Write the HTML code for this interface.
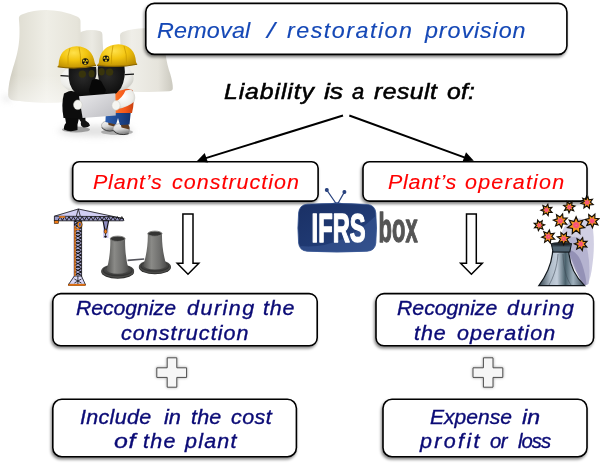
<!DOCTYPE html>
<html lang="en">
<head>
<meta charset="utf-8">
<title>Removal / restoration provision</title>
<style>
html,body{margin:0;padding:0;background:#fff;}
body{width:600px;height:469px;overflow:hidden;}
#stage{position:relative;width:600px;height:469px;overflow:hidden;background:#fff;}
#stage svg{position:absolute;left:0;top:0;display:block;}
.ln{position:absolute;left:0;top:0;margin:0;font-family:"Liberation Sans",sans-serif;font-style:italic;font-weight:normal;line-height:normal;white-space:nowrap;}
.ln span{position:absolute;display:block;transform-origin:0 0;white-space:nowrap;-webkit-text-stroke:0.12px currentColor;}
.blue{color:#1548b6;}
.blk{color:#000;}
.blk span{-webkit-text-stroke-width:0.55px;}
.navy{color:#0b0b76;}
.navy span{-webkit-text-stroke-width:0.35px;}
.red{color:#ff0000;}
.box{fill:#fff;stroke:#000;stroke-width:1.6;}
</style>
</head>
<body>
<div id="stage">
<svg width="600" height="469" viewBox="0 0 600 469">
<defs>
  <filter id="sh" x="-10%" y="-20%" width="120%" height="150%">
    <feGaussianBlur in="SourceAlpha" stdDeviation="1.5"/>
    <feOffset dx="-1.2" dy="1.8" result="o"/>
    <feComponentTransfer><feFuncA type="linear" slope="0.5"/></feComponentTransfer>
    <feMerge><feMergeNode/><feMergeNode in="SourceGraphic"/></feMerge>
  </filter>
  <filter id="glow" x="-30%" y="-30%" width="160%" height="160%">
    <feGaussianBlur in="SourceAlpha" stdDeviation="1.6"/>
    <feComponentTransfer><feFuncA type="linear" slope="0.35"/></feComponentTransfer>
    <feMerge><feMergeNode/><feMergeNode in="SourceGraphic"/></feMerge>
  </filter>

  <linearGradient id="tw1" x1="0" y1="0" x2="1" y2="0">
    <stop offset="0" stop-color="#cbc8bb"/><stop offset="0.12" stop-color="#e0ded3"/>
    <stop offset="0.45" stop-color="#efeee6"/><stop offset="0.8" stop-color="#e6e4da"/>
    <stop offset="1" stop-color="#d3d1c5"/>
  </linearGradient>
  <linearGradient id="tw2" x1="0" y1="0" x2="1" y2="0">
    <stop offset="0" stop-color="#dcdad0"/><stop offset="0.5" stop-color="#ebeae3"/>
    <stop offset="1" stop-color="#d6d4ca"/>
  </linearGradient>
  <linearGradient id="tw3" x1="0" y1="0" x2="1" y2="0">
    <stop offset="0" stop-color="#d9d7cd"/><stop offset="0.3" stop-color="#efeee8"/>
    <stop offset="0.75" stop-color="#e6e4dc"/><stop offset="1" stop-color="#cbc9bf"/>
  </linearGradient>
  <linearGradient id="fadeb" x1="0" y1="0" x2="0" y2="1">
    <stop offset="0" stop-color="#fff" stop-opacity="0"/><stop offset="0.7" stop-color="#fff" stop-opacity="0"/>
    <stop offset="1" stop-color="#fff" stop-opacity="0.45"/>
  </linearGradient>
  <radialGradient id="helm" cx="0.42" cy="0.3" r="0.75">
    <stop offset="0" stop-color="#ffe14a"/><stop offset="0.45" stop-color="#f2c40f"/>
    <stop offset="1" stop-color="#b98a00"/>
  </radialGradient>
  <radialGradient id="skin" cx="0.4" cy="0.35" r="0.8">
    <stop offset="0" stop-color="#ffffff"/><stop offset="0.6" stop-color="#ecece8"/>
    <stop offset="1" stop-color="#b9b8b0"/>
  </radialGradient>
  <radialGradient id="mask" cx="0.45" cy="0.35" r="0.8">
    <stop offset="0" stop-color="#2a2a2a"/><stop offset="1" stop-color="#050505"/>
  </radialGradient>
  <linearGradient id="paper" x1="0" y1="0" x2="1" y2="1">
    <stop offset="0" stop-color="#e9e9eb"/><stop offset="1" stop-color="#bdbdc2"/>
  </linearGradient>
  <linearGradient id="vest" x1="0" y1="0" x2="1" y2="0">
    <stop offset="0" stop-color="#ff7a2a"/><stop offset="0.6" stop-color="#f4571a"/><stop offset="1" stop-color="#c8400f"/>
  </linearGradient>
  <linearGradient id="pants" x1="0" y1="0" x2="1" y2="0">
    <stop offset="0" stop-color="#2d5fb0"/><stop offset="1" stop-color="#12326e"/>
  </linearGradient>
  <linearGradient id="shoe" x1="0" y1="0" x2="0.3" y2="1">
    <stop offset="0" stop-color="#fafafa"/><stop offset="0.6" stop-color="#d8d8d8"/><stop offset="1" stop-color="#8c8c8c"/>
  </linearGradient>
  <filter id="soft" x="-30%" y="-30%" width="160%" height="160%"><feGaussianBlur stdDeviation="3"/></filter>
  <filter id="soft1" x="-30%" y="-30%" width="160%" height="160%"><feGaussianBlur stdDeviation="0.5"/></filter>

  <linearGradient id="gt" x1="0" y1="0" x2="1" y2="0">
    <stop offset="0" stop-color="#525250"/><stop offset="0.35" stop-color="#8a8a87"/>
    <stop offset="0.7" stop-color="#70706e"/><stop offset="1" stop-color="#4c4c4b"/>
  </linearGradient>
  <radialGradient id="gtb" cx="0.5" cy="0.4" r="0.6">
    <stop offset="0" stop-color="#6a6a68"/><stop offset="1" stop-color="#3a3a39"/>
  </radialGradient>

  <linearGradient id="tv" x1="0" y1="0" x2="0.9" y2="1">
    <stop offset="0" stop-color="#1a3065"/><stop offset="0.55" stop-color="#1f3972"/>
    <stop offset="1" stop-color="#27437e"/>
  </linearGradient>

  <linearGradient id="stk" x1="0" y1="0" x2="1" y2="0">
    <stop offset="0" stop-color="#34444e"/><stop offset="0.25" stop-color="#aebbc8"/>
    <stop offset="0.4" stop-color="#c3cedb"/><stop offset="0.58" stop-color="#4a616c"/>
    <stop offset="0.75" stop-color="#9fb0bd"/><stop offset="1" stop-color="#3a4a56"/>
  </linearGradient>
  <radialGradient id="star" cx="0.5" cy="0.5" r="0.5">
    <stop offset="0" stop-color="#ffc83a"/><stop offset="0.1" stop-color="#ff4a78"/><stop offset="0.28" stop-color="#f2557c"/>
    <stop offset="0.44" stop-color="#f39322"/><stop offset="1" stop-color="#f2a216"/>
  </radialGradient>

</defs>
<rect width="600" height="469" fill="#fff"/>

<g id="plant-scene">
  <!-- floor shadows -->
  <g filter="url(#soft)" opacity="0.5">
    <ellipse cx="96" cy="131" rx="38" ry="5.5" fill="#c4c4c4"/>
    <path d="M2,96 L9,96 L12,101 L4,101 Z" fill="#cfcfcf"/>
  </g>
  <!-- tower 2 (middle, behind) -->
  <path d="M79.5,34 Q79.6,32 82,31.4 Q91,28.6 100.4,31.2 Q102.5,32 102.4,34.5 C102.8,45 103.5,60 108,96 L76,96 Z" fill="url(#tw2)"/>
  <!-- tower 3 (right) -->
  <path d="M120,35.5 Q119.8,33 122.5,32 Q142,25 165,31 C163.5,45 166,62 170.3,74 C172,80 173,85 172.8,88.4 Q172.5,91 169,91.2 Q150,92.6 114,91.6 C119,75 121.5,55 120,35.5 Z" fill="url(#tw3)"/>
  <!-- tower 1 (big, left) -->
  <path d="M18.9,19 Q18.5,15.3 22.5,14.2 Q48,4.8 77,16.4 Q80.8,18 80.5,21.8 C80,40 84,64 94,97 Q55,106.5 13,100.3 Q8.6,99.4 8.2,95 C8,88 9.6,79 12.4,70 C17.5,54 21,42 18.9,19 Z" fill="url(#tw1)"/>
  <path d="M18.9,19 Q18.5,15.3 22.5,14.2 Q48,4.8 77,16.4 Q80.8,18 80.5,21.8 C80,40 84,64 94,97 Q55,106.5 13,100.3 Q8.6,99.4 8.2,95 C8,88 9.6,79 12.4,70 C17.5,54 21,42 18.9,19 Z" fill="url(#fadeb)"/>
</g>

<g id="workers">
  <ellipse cx="76" cy="129.5" rx="14" ry="3" fill="#555" opacity="0.5" filter="url(#soft1)"/>
  <ellipse cx="117" cy="132" rx="16" ry="3" fill="#666" opacity="0.45" filter="url(#soft1)"/>
  <!-- LEFT worker -->
  <path d="M64.5,114 L66,123 Q63.5,125.5 64,129.5 Q70,132.5 77.5,130 L77.5,124.5 L79.5,116 Z" fill="#0a0a0a"/>
  <path d="M77,116 L81,122 Q80,126 83.5,127.5 Q88,128 90,125.5 Q88.5,122 85.5,120.5 L85,114 Z" fill="#121212"/>
  <path d="M64,93.5 Q61,104 63.5,118 L85,119 Q87,106 84,93 Q73,88 64,93.5 Z" fill="#0c0c0c"/>
  <ellipse cx="77" cy="79" rx="16.6" ry="12.8" fill="url(#skin)"/>
  <path d="M68.7,67 L96,67 Q97.2,74 95.2,79 Q93,82 92.3,84 L99.5,89.5 Q100.5,93 97,96 L80,96 Q70,91 68.7,78 Z" fill="url(#mask)"/>
  <ellipse cx="82.3" cy="74.1" rx="3.7" ry="3.7" fill="#38340c"/>
  <ellipse cx="91.6" cy="73.8" rx="3" ry="3.7" fill="#38340c"/>
  <path d="M60.5,75.6 L68.8,76.2" stroke="#111" stroke-width="1.2"/>
  <path d="M58.6,65 Q59,47.5 76.5,46.2 Q92,46.6 94.7,62.5 L96,65.6 Q78,70 57.6,67 Z" fill="url(#helm)"/>
  <path d="M57.6,66.7 Q78,69.7 96,65.4" stroke="#8a6500" stroke-width="1.1" fill="none"/>
  <path d="M70,48 Q67,56 68,65" stroke="#c99a00" stroke-width="0.8" fill="none"/>
  <path d="M79,47 Q81,55 80.5,64" stroke="#c99a00" stroke-width="0.8" fill="none"/>
  <circle cx="85.3" cy="61.5" r="3.3" fill="#111"/><path d="M86.65,63.84 A2.71,2.71 0 0 1 83.95,63.84 L84.84,62.30 A0.92,0.92 0 0 0 85.76,62.30 Z" fill="#f4cf1c"/><path d="M82.59,61.50 A2.71,2.71 0 0 1 83.95,59.16 L84.84,60.70 A0.92,0.92 0 0 0 84.38,61.50 Z" fill="#f4cf1c"/><path d="M86.65,59.16 A2.71,2.71 0 0 1 88.01,61.50 L86.22,61.50 A0.92,0.92 0 0 0 85.76,60.70 Z" fill="#f4cf1c"/><circle cx="85.3" cy="61.5" r="0.53" fill="#f4cf1c"/>
  <!-- RIGHT worker -->
  <path d="M101.4,126 Q101.4,121.5 107.5,121 L114,122.5 Q116,127 113,130.5 Q105.5,132 101.4,126 Z" fill="url(#shoe)" stroke="#8d8d8d" stroke-width="0.5"/>
  <path d="M108,121 L114.4,122.5 Q115.6,124.8 115,126.8 L108.5,125 Z" fill="#5e3d22"/>
  <path d="M101.6,127.4 Q106,132.4 113.4,130.6" stroke="#3a3a3a" stroke-width="1" fill="none"/>
  <path d="M113,129.5 Q113,124.5 119.5,123.5 L128,124 Q131,129 128.5,133.5 Q118.5,136 113,129.5 Z" fill="url(#shoe)" stroke="#8d8d8d" stroke-width="0.5"/>
  <path d="M120.5,123.5 L128,124 Q130,127 129.4,129.4 L121.5,127.6 Z" fill="#5e3d22"/>
  <path d="M113.2,130.6 Q118.6,136.4 128.6,133.8" stroke="#3a3a3a" stroke-width="1" fill="none"/>
  <path d="M106,110 L105.4,122 L116,124.5 L118,118 L120,125 L129.5,124.5 L131,110 Z" fill="url(#pants)"/>
  <path d="M114,92 Q112,103 114,113 L132,113 Q135,102 132.5,90 Q123,86 114,92 Z" fill="url(#vest)"/>
  <ellipse cx="117" cy="78" rx="16.6" ry="12.8" fill="url(#skin)"/>
  <path d="M98,66.2 L124.4,65.8 Q126.2,78 121,88 Q117,93.5 112.5,96 L94.5,96 Q92.5,92 95.5,88.5 L100.2,83.5 Q97,76 98,66.2 Z" fill="url(#mask)"/>
  <ellipse cx="101.6" cy="71.7" rx="3.1" ry="3.7" fill="#38340c"/>
  <ellipse cx="109.6" cy="72.1" rx="3.7" ry="3.7" fill="#38340c"/>
  <path d="M124.6,74.6 L134,74.2" stroke="#111" stroke-width="1.2"/>
  <path d="M98.8,63 Q100,45.2 118.5,44.2 Q135,45.4 136,62 L137.2,64.6 Q118,68.2 97,65.6 Z" fill="url(#helm)"/>
  <path d="M97,65.2 Q118,68 137.2,64.2" stroke="#8a6500" stroke-width="1.1" fill="none"/>
  <path d="M113,45.5 Q111,54 111.5,64" stroke="#c99a00" stroke-width="0.8" fill="none"/>
  <path d="M124,46 Q127,54 126.5,63.5" stroke="#c99a00" stroke-width="0.8" fill="none"/>
  <circle cx="106" cy="58.8" r="3.3" fill="#111"/><path d="M107.35,61.14 A2.71,2.71 0 0 1 104.65,61.14 L105.54,59.60 A0.92,0.92 0 0 0 106.46,59.60 Z" fill="#f4cf1c"/><path d="M103.29,58.80 A2.71,2.71 0 0 1 104.65,56.46 L105.54,58.00 A0.92,0.92 0 0 0 105.08,58.80 Z" fill="#f4cf1c"/><path d="M107.35,56.46 A2.71,2.71 0 0 1 108.71,58.80 L106.92,58.80 A0.92,0.92 0 0 0 106.46,58.00 Z" fill="#f4cf1c"/><circle cx="106" cy="58.8" r="0.53" fill="#f4cf1c"/>
  <path d="M131,89.5 Q137,94 134.5,101.5 Q127.5,107.5 117.5,109 L115,102 Q122.5,98 125.5,90.5 Z" fill="url(#skin)"/>
  <path d="M92,80 Q97,77.5 101,81 L106,90 Q104,97 97,97 Q90,97 89,90 Z" fill="#070707"/>
  <path d="M79,96.2 L115.4,93.2 L115.8,115.6 L82.6,118 Z" fill="url(#paper)"/>
  <ellipse cx="77.8" cy="104.8" rx="4.3" ry="4.8" fill="#f6f6f2" stroke="#c9c8c0" stroke-width="0.5"/>
  <ellipse cx="116" cy="105.4" rx="4.1" ry="4.8" fill="#f6f6f2" stroke="#c9c8c0" stroke-width="0.5"/>
</g>
<g id="crane"><path d="M54,216 L78.4,208.6 L123.6,218.6 L123.6,221 L108.5,221 L108.5,238 L103,238 L103,221 L82,221 L82,276 L86,285.8 L67.6,285.8 L73.4,276 L73.4,221 L54,221 Z" fill="#c9c6f2" opacity="0.85" filter="url(#soft1)"/><g stroke="#111" stroke-width="0.8" fill="none"><path d="M78.4,209 L54.4,216.2 M78.4,209 L123.4,218.6 M78.4,209 L75,220.6 M78.4,209 L81.4,220.6"/><path d="M54.4,216.2 L112,216.6 L123.4,218.8 L123.4,220.8 L54.4,220.8 Z" fill="#9c9ac9"/><path d="M58.0,220.4 L60.2,216.6 L62.4,220.4 M62.4,220.4 L64.6,216.6 L66.8,220.4 M66.8,220.4 L69.0,216.6 L71.2,220.4 M71.2,220.4 L73.4,216.6 L75.6,220.4 M75.6,220.4 L77.8,216.6 L80.0,220.4 M80.0,220.4 L82.2,216.6 L84.4,220.4 M84.4,220.4 L86.6,216.6 L88.8,220.4 M88.8,220.4 L91.0,216.6 L93.2,220.4 M93.2,220.4 L95.4,216.6 L97.6,220.4 M97.6,220.4 L99.8,216.6 L102.0,220.4 M102.0,220.4 L104.2,216.6 L106.4,220.4 M106.4,220.4 L108.6,216.6 L110.8,220.4 M110.8,220.4 L113.0,216.6 L115.2,220.4 M115.2,220.4 L117.4,216.6 L119.6,220.4 M119.6,220.4 L121.8,216.6 L124.0,220.4 " stroke-width="0.9"/><path d="M74.4,221 L81.6,221 L81.6,276.5 L74.4,276.5 Z" fill="#a9a7d2"/><path d="M74.4,221.0 L81.4,224.4 M81.4,221.0 L74.4,224.4 M74.4,224.4 L81.4,227.8 M81.4,224.4 L74.4,227.8 M74.4,227.8 L81.4,231.2 M81.4,227.8 L74.4,231.2 M74.4,231.2 L81.4,234.6 M81.4,231.2 L74.4,234.6 M74.4,234.6 L81.4,238.0 M81.4,234.6 L74.4,238.0 M74.4,238.0 L81.4,241.4 M81.4,238.0 L74.4,241.4 M74.4,241.4 L81.4,244.8 M81.4,241.4 L74.4,244.8 M74.4,244.8 L81.4,248.2 M81.4,244.8 L74.4,248.2 M74.4,248.2 L81.4,251.6 M81.4,248.2 L74.4,251.6 M74.4,251.6 L81.4,255.0 M81.4,251.6 L74.4,255.0 M74.4,255.0 L81.4,258.4 M81.4,255.0 L74.4,258.4 M74.4,258.4 L81.4,261.8 M81.4,258.4 L74.4,261.8 M74.4,261.8 L81.4,265.2 M81.4,261.8 L74.4,265.2 M74.4,265.2 L81.4,268.6 M81.4,265.2 L74.4,268.6 M74.4,268.6 L81.4,272.0 M81.4,268.6 L74.4,272.0 M74.4,272.0 L81.4,275.4 M81.4,272.0 L74.4,275.4 " stroke-width="1"/><path d="M74.4,276 L68.2,285 L85.6,285 L81.4,276 Z" fill="#d8d6f6"/><path d="M77.9,276 L77.9,285 M74.4,279 L81.4,283 M81.4,279 L74.4,283"/><path d="M103,220.8 L108.6,220.8 L106.6,230.4 L105,230.4 Z" fill="#8f8dc0" stroke-width="1.1"/><path d="M105.5,230 L105.5,235.5"/></g><rect x="54.2" y="220.6" width="4.4" height="3" fill="#f07a14" stroke="#111" stroke-width="0.5"/><rect x="59" y="216.2" width="6" height="1.5" fill="#f07a14"/><rect x="74.2" y="226" width="1.6" height="50" fill="#f07a14" opacity="0.85"/><ellipse cx="79.6" cy="224.6" rx="2.6" ry="3.2" fill="#f0891c" stroke="#111" stroke-width="0.6"/><ellipse cx="79.8" cy="224.6" rx="1" ry="1.8" fill="#3d55c4"/><rect x="75" y="228.6" width="4.6" height="1.5" fill="#f07a14"/><rect x="68.4" y="284" width="17" height="1.8" fill="#f07a14" stroke="#7a3a00" stroke-width="0.3"/><ellipse cx="105.6" cy="231.4" rx="1.5" ry="2.2" fill="#f07a14" stroke="#111" stroke-width="0.5"/><circle cx="105.5" cy="236.6" r="1.2" fill="#111"/></g><g id="grey-towers"><path d="M127.6,260.4 L144.2,259" stroke="#55555c" stroke-width="1.6" fill="none"/><ellipse cx="154.9" cy="267.5" rx="16.0" ry="6.8" fill="#2c2c2b"/><ellipse cx="154.9" cy="266.6" rx="16.0" ry="6.8" fill="#4a4a48"/><ellipse cx="154.9" cy="266.3" rx="14.4" ry="5.5" fill="#333332"/><ellipse cx="154.9" cy="266.0" rx="13.4" ry="4.8" fill="url(#gtb)"/><path d="M147.8,233.7 C148.10000000000002,246.3 145.5,258.9 143.3,265.2 A11.6,4.18 0 0 0 166.5,265.2 C164.3,258.9 161.7,246.3 162.0,233.7 Z" fill="url(#gt)"/><ellipse cx="154.9" cy="233.7" rx="7.1" ry="2.56" fill="#343433" stroke="#7a7a78" stroke-width="0.9"/><ellipse cx="117.7" cy="271.79999999999995" rx="16.4" ry="7.0" fill="#2c2c2b"/><ellipse cx="117.7" cy="270.9" rx="16.4" ry="7.0" fill="#4a4a48"/><ellipse cx="117.7" cy="270.59999999999997" rx="14.799999999999999" ry="5.7" fill="#333332"/><ellipse cx="117.7" cy="270.29999999999995" rx="13.799999999999999" ry="5.0" fill="url(#gtb)"/><path d="M110.3,238.8 C110.6,251.1 108.7,263.4 106.5,269.6 A11.2,4.03 0 0 0 128.9,269.6 C126.7,263.4 124.80000000000001,251.1 125.10000000000001,238.8 Z" fill="url(#gt)"/><ellipse cx="117.7" cy="238.8" rx="7.4" ry="2.66" fill="#343433" stroke="#7a7a78" stroke-width="0.9"/></g>
<!-- boxes -->
<g filter="url(#sh)">
  <rect class="box" x="145.8" y="3.4" width="421.1" height="51" rx="8.6"/>
  <rect class="box" x="72.7" y="161.7" width="245.4" height="39.4" rx="6.5"/>
  <rect class="box" x="363" y="161.7" width="224" height="39.4" rx="6.5"/>
  <rect class="box" x="52.8" y="293.6" width="264.4" height="52.2" rx="8"/>
  <rect class="box" x="376" y="293.6" width="217.6" height="52.2" rx="8"/>
  <rect class="box" x="52.8" y="399.2" width="243.6" height="57.6" rx="9"/>
  <rect class="box" x="383" y="399.2" width="204" height="57.6" rx="9"/>
</g>
<!-- connector arrows -->
<g stroke="#000" stroke-width="2" fill="none" stroke-linecap="butt">
  <line x1="343" y1="115.5" x2="205" y2="158.4"/>
  <line x1="349.3" y1="115.5" x2="465" y2="157.6"/>
</g>
<polygon points="197,160.9 204.7,153 208,162.6" fill="#000"/>
<polygon points="473.8,160.8 462.7,161.2 466,152.3" fill="#000"/>
<!-- block arrows -->
<g fill="#fff" stroke="#000" stroke-width="1.5" stroke-linejoin="miter">
  <polygon points="182.9,213.9 193,213.9 193,263.2 198.8,263.2 188,274.2 177.2,263.2 182.9,263.2"/>
  <polygon points="466.5,213.9 476.3,213.9 476.3,263.2 482.3,263.2 471.4,274.2 460.6,263.2 466.5,263.2"/>
</g>
<!-- plus signs -->
<g filter="url(#glow)" fill="#f6f6f6" stroke="#4d4d4d" stroke-width="1">
  <polygon points="167.2,357.8 176.8,357.8 176.8,367.8 186.6,367.8 186.6,377.4 176.8,377.4 176.8,387.2 167.2,387.2 167.2,377.4 156.8,377.4 156.8,367.8 167.2,367.8"/>
  <polygon points="483.4,357.8 493,357.8 493,367.8 502.8,367.8 502.8,377.4 493,377.4 493,387.2 483.4,387.2 483.4,377.4 473,377.4 473,367.8 483.4,367.8"/>
</g>

<g id="logo" opacity="0.999">
  <g stroke="#2a437f" stroke-width="1.2" fill="#2a437f" stroke-linecap="round">
    <path d="M336.4,204 L327,190.4" fill="none"/><path d="M337.6,204 L344.2,192.4" fill="none"/>
    <circle cx="326.8" cy="190" r="1.4"/><circle cx="344.4" cy="192" r="1.4"/>
    <path d="M331,204.6 Q337,201.2 343,204.6 Z"/>
  </g>
  <path d="M307,204.2 Q337,202.4 367.4,204.4 Q375,205.2 375.8,213 Q377.2,228 375.8,243 Q375,250.6 367.4,251.2 Q337,253 307,251.2 Q299.4,250.6 298.6,243 Q297.2,228 298.6,213 Q299.4,205 307,204.2 Z" fill="url(#tv)" stroke="#31508f" stroke-width="0.8"/>
  <path d="M300,246 Q340,250 375.6,216 Q377,230 375.8,243 Q375,250.6 367.4,251.2 Q337,253 307,251.2 Q301,250.6 300,246 Z" fill="#4a6aa8" opacity="0.35"/>
  <text x="311.6" y="241.7" font-family="'Liberation Sans',sans-serif" font-weight="bold" font-size="41" fill="#fff" stroke="#fff" stroke-width="1.5" stroke-linejoin="round" textLength="54" lengthAdjust="spacingAndGlyphs">IFRS</text>
  <text x="378.6" y="241.7" font-family="'Liberation Sans',sans-serif" font-weight="bold" font-size="40" fill="#555" stroke="#555" stroke-width="1.3" stroke-linejoin="round" textLength="39" lengthAdjust="spacingAndGlyphs">box</text>
</g>
<g id="explosion"><path d="M562,246 Q559,231 567,224 Q574,217 583,219 Q591,219 593,229 Q595,246 592.5,264 Q591,278 587.5,285 L584,285 L570,262 Z" fill="#cfcde2" opacity="0.95" filter="url(#soft1)"/><path d="M569,238 Q581,233 587,248 Q591,266 588.5,284 L584,285 Q578,270 570,254 Z" fill="#b3b0cf" opacity="0.9" filter="url(#soft1)"/><path d="M570,250 Q578,252 582,264 Q586,276 586.5,285 L583,285.6 Q576,272 570,256 Z" fill="#8f8cb2" opacity="0.85" filter="url(#soft1)"/><path d="M552.6,251.6 C551.5,266 546,276 538.8,285.6 L584.6,285.6 C574.5,276 569.6,266 568.8,251.6 Z" fill="url(#stk)" stroke="#10161c" stroke-width="1.2"/><path d="M558,254 C557,268 553,278 549,285 M563,254 C563.5,268 566,278 571,285" stroke="#3f4a56" stroke-width="0.8" fill="none" opacity="0.7"/><path d="M551.4,243.8 L571.4,243.8 L569.8,252 L553,252 Z" fill="#4f6270" stroke="#10161c" stroke-width="1.1"/><path d="M551,245.8 L570.4,245.8" stroke="#141a20" stroke-width="0.7"/><ellipse cx="561.4" cy="243.8" rx="10" ry="1.7" fill="#1e262e"/><polygon points="547.86,204.28 548.53,207.58 551.89,207.34 549.73,209.93 552.01,212.40 548.65,212.32 548.14,215.65 546.10,212.97 543.18,214.65 544.00,211.38 540.87,210.14 543.94,208.75 542.95,205.53 545.95,207.06" fill="url(#star)" stroke="#140d05" stroke-width="1.15" stroke-linejoin="miter"/><polygon points="572.10,201.88 571.76,205.23 575.04,205.99 572.22,207.83 573.67,210.86 570.47,209.80 569.00,212.82 567.85,209.66 564.56,210.40 566.31,207.52 563.69,205.41 567.03,204.99 567.04,201.62 569.46,203.97" fill="url(#star)" stroke="#140d05" stroke-width="1.15" stroke-linejoin="miter"/><polygon points="587.83,196.37 588.90,199.82 592.46,199.20 590.43,202.20 593.14,204.60 589.53,204.87 589.34,208.49 586.87,205.84 583.93,207.94 584.46,204.37 580.98,203.38 584.11,201.56 582.72,198.23 586.09,199.54" fill="url(#star)" stroke="#140d05" stroke-width="1.15" stroke-linejoin="miter"/><polygon points="562.61,213.89 563.02,217.98 567.14,218.10 564.20,220.98 566.67,224.27 562.59,223.76 561.56,227.75 559.40,224.24 555.65,225.92 557.05,222.05 553.39,220.16 557.29,218.84 556.49,214.81 559.95,217.03" fill="url(#star)" stroke="#140d05" stroke-width="1.15" stroke-linejoin="miter"/><polygon points="576.10,216.74 578.10,221.45 583.02,220.08 580.59,224.58 584.73,227.57 579.70,228.47 579.94,233.58 576.10,230.21 572.26,233.58 572.50,228.47 567.47,227.57 571.61,224.58 569.18,220.08 574.10,221.45" fill="url(#star)" stroke="#140d05" stroke-width="1.15" stroke-linejoin="miter"/><polygon points="594.88,214.13 594.88,218.25 598.96,218.78 595.75,221.35 597.88,224.87 593.87,223.96 592.45,227.82 590.66,224.11 586.75,225.41 588.53,221.70 585.08,219.45 589.09,218.53 588.70,214.44 591.92,217.00" fill="url(#star)" stroke="#140d05" stroke-width="1.15" stroke-linejoin="miter"/><polygon points="542.25,220.74 541.63,223.80 544.59,224.81 541.81,226.23 542.87,229.16 540.02,227.88 538.39,230.54 537.61,227.52 534.52,227.89 536.40,225.41 534.18,223.22 537.29,223.14 537.62,220.04 539.62,222.42" fill="url(#star)" stroke="#140d05" stroke-width="1.15" stroke-linejoin="miter"/><polygon points="549.40,230.08 550.36,233.82 554.20,233.35 551.87,236.44 554.63,239.15 550.77,239.25 550.37,243.10 547.88,240.14 544.63,242.23 545.38,238.44 541.72,237.20 545.16,235.43 543.85,231.79 547.38,233.37" fill="url(#star)" stroke="#140d05" stroke-width="1.15" stroke-linejoin="miter"/><polygon points="566.52,232.57 566.34,236.30 570.02,236.97 566.98,239.15 568.76,242.45 565.16,241.44 563.69,244.88 562.23,241.43 558.63,242.43 560.41,239.15 557.38,236.95 561.07,236.30 560.90,232.56 563.70,235.03" fill="url(#star)" stroke="#140d05" stroke-width="1.15" stroke-linejoin="miter"/><polygon points="582.63,237.62 583.20,241.38 587.01,241.29 584.42,244.09 586.86,247.01 583.07,246.73 582.30,250.46 580.15,247.32 576.76,249.04 577.88,245.41 574.41,243.83 577.95,242.44 577.03,238.75 580.32,240.64" fill="url(#star)" stroke="#140d05" stroke-width="1.15" stroke-linejoin="miter"/></g>
</svg>
<!-- labels -->
<div class="ln it blue" style="font-size:21.6px"><span style="left:156.7px;top:18.45px;letter-spacing:0.19px;transform:scaleX(1.080)">Removal</span> <span style="left:266.9px;top:18.45px;letter-spacing:0.00px;transform:scaleX(1.300)">/</span> <span style="left:286.7px;top:18.45px;letter-spacing:1.37px;transform:scaleX(1.080)">restoration</span> <span style="left:424.5px;top:18.45px;letter-spacing:0.83px;transform:scaleX(1.080)">provision</span></div>
<div class="ln it blk" style="font-size:22.9px"><span style="left:224.3px;top:77.58px;letter-spacing:0.86px;transform:scaleX(1.080)">Liability</span> <span style="left:324.2px;top:77.58px;letter-spacing:0.00px;transform:scaleX(1.155)">is</span> <span style="left:351.5px;top:77.58px;letter-spacing:0.00px;transform:scaleX(0.958)">a</span> <span style="left:374.2px;top:77.58px;letter-spacing:0.47px;transform:scaleX(1.080)">result</span> <span style="left:447.2px;top:77.58px;letter-spacing:0.14px;transform:scaleX(1.080)">of:</span></div>
<div class="ln it red" style="font-size:19.9px"><span style="left:93.2px;top:171.49px;letter-spacing:0.72px;transform:scaleX(1.080)">Plant’s</span> <span style="left:171.9px;top:171.49px;letter-spacing:0.94px;transform:scaleX(1.080)">construction</span></div>
<div class="ln it red" style="font-size:19.9px"><span style="left:387.5px;top:171.49px;letter-spacing:0.65px;transform:scaleX(1.080)">Plant’s</span> <span style="left:464.5px;top:171.49px;letter-spacing:1.11px;transform:scaleX(1.080)">operation</span></div>
<div class="ln it navy" style="font-size:19.9px"><span style="left:75.5px;top:297.49px;letter-spacing:0.00px;transform:scaleX(1.063)">Recognize</span> <span style="left:186.5px;top:297.49px;letter-spacing:1.38px;transform:scaleX(1.080)">during</span> <span style="left:262.5px;top:297.49px;letter-spacing:0.75px;transform:scaleX(1.080)">the</span></div>
<div class="ln it navy" style="font-size:19.9px"><span style="left:121.0px;top:321.59px;letter-spacing:0.98px;transform:scaleX(1.080)">construction</span></div>
<div class="ln it navy" style="font-size:19.9px"><span style="left:396.7px;top:297.49px;letter-spacing:0.00px;transform:scaleX(1.067)">Recognize</span> <span style="left:506.8px;top:297.49px;letter-spacing:1.34px;transform:scaleX(1.080)">during</span></div>
<div class="ln it navy" style="font-size:19.9px"><span style="left:414.2px;top:321.59px;letter-spacing:0.89px;transform:scaleX(1.080)">the</span> <span style="left:456.5px;top:321.59px;letter-spacing:0.99px;transform:scaleX(1.080)">operation</span></div>
<div class="ln it navy" style="font-size:19.9px"><span style="left:80.2px;top:405.99px;letter-spacing:0.28px;transform:scaleX(1.080)">Include</span> <span style="left:163.5px;top:405.99px;letter-spacing:0.00px;transform:scaleX(1.098)">in</span> <span style="left:190.5px;top:405.99px;letter-spacing:0.20px;transform:scaleX(1.080)">the</span> <span style="left:230.9px;top:405.99px;letter-spacing:0.37px;transform:scaleX(1.080)">cost</span></div>
<div class="ln it navy" style="font-size:19.9px"><span style="left:113.5px;top:429.59px;letter-spacing:0.60px;transform:scaleX(1.250)">of</span> <span style="left:142.5px;top:429.59px;letter-spacing:1.17px;transform:scaleX(1.080)">the</span> <span style="left:184.5px;top:429.59px;letter-spacing:1.13px;transform:scaleX(1.080)">plant</span></div>
<div class="ln it navy" style="font-size:19.9px"><span style="left:430.0px;top:405.99px;letter-spacing:-0.00px;transform:scaleX(1.059)">Expense</span> <span style="left:522.0px;top:405.99px;letter-spacing:0.00px;transform:scaleX(1.162)">in</span></div>
<div class="ln it navy" style="font-size:19.9px"><span style="left:420.0px;top:429.59px;letter-spacing:2.17px;transform:scaleX(1.080)">profit</span> <span style="left:489.5px;top:429.59px;letter-spacing:-0.54px;transform:scaleX(1.020)">or</span> <span style="left:518.0px;top:429.59px;letter-spacing:-0.95px;transform:scaleX(1.020)">loss</span></div>
</div>
</body>
</html>
